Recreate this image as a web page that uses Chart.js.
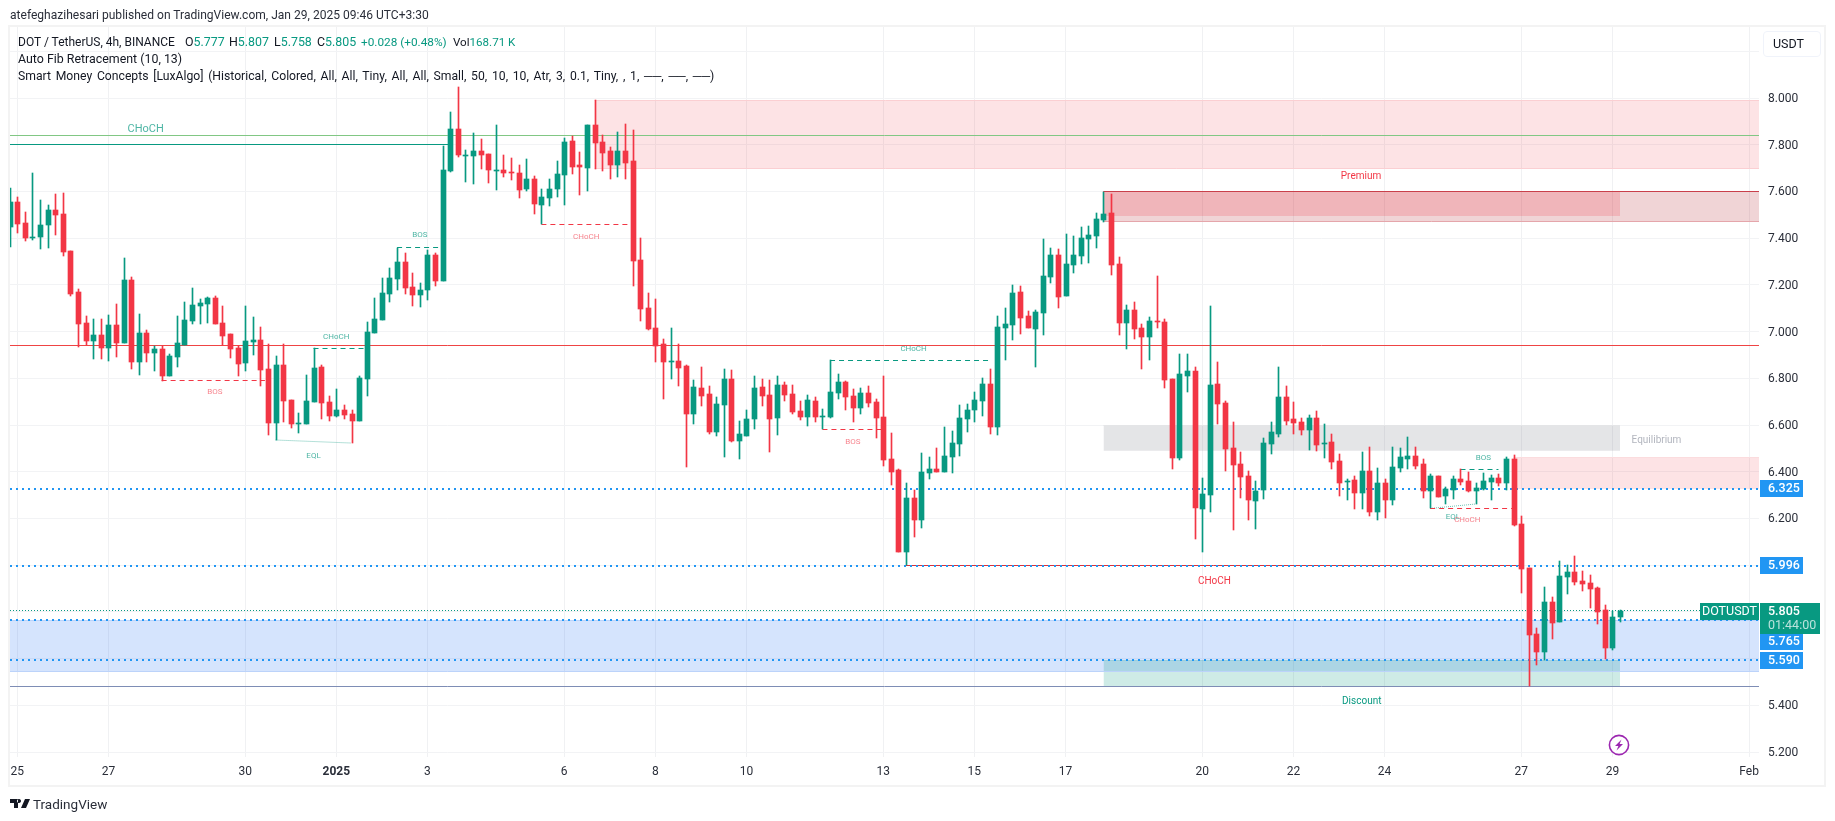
<!DOCTYPE html>
<html>
<head>
<meta charset="utf-8">
<title>DOT / TetherUS</title>
<script src="https://cdn.jsdelivr.net/npm/chart.js@4"></script>
<style>
    html, body { margin: 0; padding: 0; background: #fff; width: 1835px; height: 821px; overflow: hidden; }
    body { font-family: Roboto, sans-serif; color: #131722; position: relative; }
    #frame { position: absolute; left: 8px; top: 25px; width: 1814px; height: 758px; border: 2px solid #f3f3f3; }
    #chartBox { position: absolute; left: 0; top: 0; width: 1835px; height: 821px; }
    .text-line { position: absolute; white-space: pre; font-size: 12.4px; line-height: 16px; }
    .value { color: #089981; }
    #published { left: 10px; top: 7px; font-size: 12.05px; color: #2a2e39; }
    #unit { position: absolute; left: 1763px; top: 31px; width: 47px; height: 24px; padding-left: 9px; border: 1px solid #f0f3fa; border-radius: 4px; font-size: 12.5px; line-height: 24px; }
    #brand { left: 33px; top: 796px; font-size: 13.5px; color: #2a2e39; }
    #logo { position: absolute; left: 10px; top: 799px; }
    #bolt { position: absolute; left: 1608px; top: 734px; }
</style>
</head>
<body>
<div id="frame"></div>
<div id="chartBox"><canvas id="priceChart" width="1835" height="821"></canvas></div>
<div class="text-line" id="published">atefeghazihesari published on TradingView.com, Jan 29, 2025 09:46 UTC+3:30</div>
<div class="text-line" style="left:18px;top:34px;font-size:12px">DOT / TetherUS, 4h, BINANCE</div>
<div class="text-line" style="left:185px;top:34px">O<span class="value">5.777</span></div>
<div class="text-line" style="left:229px;top:34px">H<span class="value">5.807</span></div>
<div class="text-line" style="left:274px;top:34px">L<span class="value">5.758</span></div>
<div class="text-line" style="left:317px;top:34px">C<span class="value">5.805</span></div>
<div class="text-line value" style="left:361px;top:34px;font-size:11.8px">+0.028 (+0.48%)</div>
<div class="text-line" style="left:453px;top:34px;font-size:11.6px">Vol<span class="value">168.71 K</span></div>
<div class="text-line" style="left:18px;top:51px">Auto Fib Retracement (10, 13)</div>
<div class="text-line" style="left:18px;top:68px;font-size:12.2px;word-spacing:1.7px">Smart Money Concepts [LuxAlgo] (Historical, Colored, All, All, Tiny, All, All, Small, 50, 10, 10, Atr, 3, 0.1, Tiny, , 1, ──, ──, ──)</div>
<div id="unit">USDT</div>
<svg id="logo" width="21" height="9" viewBox="0 0 21 9"><path d="M0 0h8v9H4V4H0z M9 0a2 2 0 1 0 0.01 0z M15 0h5l-4 9h-5z" fill="#131722"/></svg>
<div class="text-line" id="brand">TradingView</div>
<svg id="bolt" width="22" height="22" viewBox="0 0 22 22"><circle cx="11" cy="11" r="9.6" fill="#fff" stroke="#9c27b0" stroke-width="1.6"/><path d="M13.5 5.5 7 12h3.4l-1.9 4.5L15 10h-3.4z" fill="#9c27b0"/></svg>
<script>
// Candles, 4h bars, first one is half cut by the left edge
const opens = [
    7.449,7.555,7.465,7.402,7.406,7.458,7.520,7.503,7.345,7.169,
    7.037,6.961,6.985,6.931,7.028,6.952,7.221,6.871,6.994,6.910,
    6.925,6.811,6.892,6.942,7.047,7.111,7.119,7.144,7.037,6.989,
    6.930,6.867,6.957,6.964,6.840,6.610,6.857,6.707,6.606,6.606,
    6.700,6.848,6.698,6.640,6.664,6.647,6.618,6.798,6.995,7.051,
    7.162,7.226,7.298,7.191,7.158,7.179,7.328,7.218,7.687,7.867,
    7.751,7.753,7.773,7.760,7.687,7.692,7.683,7.679,7.610,7.653,
    7.542,7.572,7.610,7.670,7.816,7.713,7.700,7.884,7.811,7.773,
    7.713,7.773,7.730,7.306,7.101,7.015,6.947,6.870,6.874,6.852,
    6.647,6.758,6.733,6.570,6.685,6.797,6.531,6.553,6.626,6.763,
    6.728,6.630,6.771,6.733,6.660,6.634,6.703,6.634,6.634,6.737,
    6.784,6.724,6.673,6.737,6.698,6.634,6.454,6.408,6.056,6.288,
    6.193,6.395,6.412,6.399,6.463,6.519,6.626,6.664,6.703,6.776,
    6.592,7.015,7.028,7.170,7.067,7.011,7.080,7.234,7.328,7.152,
    7.285,7.324,7.396,7.409,7.478,7.508,7.289,7.037,7.092,7.015,
    6.977,7.045,7.041,6.797,6.459,6.810,6.831,6.241,6.301,6.776,
    6.694,6.502,6.433,6.382,6.275,6.322,6.519,6.562,6.720,6.626,
    6.613,6.579,6.630,6.519,6.527,6.446,6.356,6.365,6.309,6.403,
    6.228,6.352,6.279,6.416,6.455,6.467,6.433,6.318,6.382,6.296,
    6.322,6.369,6.360,6.318,6.326,6.356,6.373,6.352,6.455,6.176,
    5.988,5.705,5.628,5.842,5.757,5.949,5.971,5.932,5.924,5.902,
    5.808,5.645,5.777
];
const highs = [
    7.614,7.576,7.512,7.679,7.563,7.542,7.589,7.593,7.345,7.182,
    7.067,7.054,7.054,7.071,7.118,7.315,7.233,7.075,7.007,6.938,
    6.938,6.904,7.067,7.126,7.186,7.139,7.148,7.152,7.109,6.989,
    6.938,7.109,7.062,7.019,6.947,6.895,6.947,6.707,6.651,6.814,
    6.928,6.857,6.724,6.754,6.685,6.664,6.810,7.041,7.144,7.229,
    7.272,7.360,7.336,7.251,7.208,7.349,7.336,7.794,7.940,8.047,
    7.777,7.850,7.824,7.760,7.884,7.756,7.743,7.713,7.739,7.666,
    7.610,7.653,7.730,7.829,7.837,7.769,7.884,7.991,7.841,7.790,
    7.854,7.888,7.863,7.400,7.165,7.139,6.968,7.015,6.947,6.857,
    6.793,6.848,6.767,6.720,6.840,6.835,6.617,6.664,6.810,6.797,
    6.793,6.810,6.784,6.771,6.703,6.728,6.720,6.668,6.878,6.818,
    6.788,6.754,6.758,6.767,6.711,6.810,6.566,6.412,6.352,6.322,
    6.480,6.463,6.502,6.592,6.574,6.686,6.690,6.741,6.801,6.840,
    7.067,7.101,7.199,7.195,7.088,7.092,7.396,7.358,7.354,7.418,
    7.409,7.448,7.452,7.508,7.599,7.589,7.319,7.114,7.127,7.033,
    7.063,7.238,7.054,6.797,6.904,6.904,6.848,6.373,7.110,6.870,
    6.703,6.613,6.485,6.403,6.360,6.544,6.613,6.848,6.767,6.699,
    6.630,6.643,6.660,6.604,6.562,6.476,6.369,6.382,6.485,6.506,
    6.416,6.369,6.506,6.502,6.549,6.506,6.455,6.390,6.382,6.335,
    6.382,6.410,6.399,6.352,6.395,6.386,6.390,6.463,6.472,6.211,
    5.988,5.731,5.907,5.864,6.018,6.001,6.039,5.975,5.958,5.907,
    5.830,5.804,5.807
];
const lows = [
    7.363,7.423,7.389,7.393,7.355,7.359,7.415,7.325,7.154,6.935,
    6.941,6.884,6.884,6.875,6.892,6.952,6.841,6.815,6.871,6.832,
    6.790,6.811,6.850,6.942,7.034,7.034,7.038,7.034,6.942,6.888,
    6.811,6.832,6.901,6.768,6.559,6.536,6.614,6.588,6.567,6.606,
    6.700,6.627,6.618,6.636,6.627,6.523,6.618,6.725,6.995,7.051,
    7.126,7.179,7.162,7.109,7.106,7.136,7.196,7.218,7.683,7.749,
    7.640,7.632,7.696,7.636,7.606,7.662,7.649,7.572,7.602,7.503,
    7.459,7.537,7.576,7.542,7.674,7.584,7.602,7.696,7.687,7.653,
    7.662,7.653,7.195,7.045,7.007,6.870,6.711,6.797,6.767,6.420,
    6.604,6.681,6.561,6.553,6.463,6.527,6.454,6.553,6.583,6.681,
    6.484,6.557,6.703,6.647,6.621,6.596,6.613,6.581,6.630,6.711,
    6.664,6.613,6.647,6.677,6.544,6.424,6.343,6.056,6.001,6.121,
    6.159,6.369,6.399,6.399,6.395,6.467,6.570,6.613,6.639,6.562,
    6.557,6.878,6.964,6.990,7.015,6.848,6.985,7.208,7.101,7.152,
    7.251,7.289,7.294,7.358,7.469,7.242,6.985,6.926,6.968,6.840,
    6.878,7.015,6.759,6.412,6.450,6.741,6.112,6.056,6.228,6.604,
    6.403,6.151,6.288,6.193,6.155,6.283,6.476,6.549,6.600,6.562,
    6.557,6.493,6.489,6.459,6.412,6.296,6.279,6.241,6.241,6.211,
    6.193,6.202,6.258,6.399,6.412,6.412,6.288,6.243,6.292,6.262,
    6.283,6.343,6.313,6.262,6.322,6.279,6.339,6.322,6.168,5.881,
    5.483,5.573,5.594,5.684,5.757,5.877,5.915,5.889,5.817,5.748,
    5.598,5.637,5.758
];
const closes = [
    7.555,7.462,7.402,7.405,7.456,7.520,7.500,7.342,7.162,7.034,
    6.961,6.985,6.931,7.028,6.952,7.221,6.871,6.994,6.910,6.925,
    6.811,6.895,6.951,7.049,7.114,7.122,7.144,7.034,6.982,6.927,
    6.862,6.959,6.964,6.837,6.610,6.857,6.704,6.606,6.608,6.703,
    6.844,6.695,6.640,6.664,6.644,6.618,6.801,6.998,7.054,7.165,
    7.229,7.298,7.188,7.158,7.178,7.328,7.218,7.692,7.867,7.757,
    7.756,7.773,7.757,7.693,7.692,7.680,7.680,7.606,7.653,7.546,
    7.576,7.610,7.674,7.811,7.704,7.704,7.884,7.807,7.764,7.713,
    7.773,7.721,7.302,7.096,7.011,6.938,6.870,6.874,6.844,6.647,
    6.763,6.724,6.570,6.690,6.797,6.531,6.561,6.626,6.758,6.724,
    6.626,6.771,6.728,6.656,6.634,6.707,6.634,6.638,6.741,6.784,
    6.720,6.673,6.737,6.694,6.630,6.450,6.399,6.056,6.288,6.193,
    6.399,6.412,6.399,6.467,6.523,6.630,6.664,6.707,6.776,6.592,
    7.020,7.033,7.165,7.058,7.015,7.084,7.238,7.328,7.148,7.289,
    7.328,7.401,7.414,7.482,7.503,7.285,7.037,7.092,7.011,6.977,
    7.045,7.041,6.793,6.459,6.819,6.831,6.245,6.305,6.771,6.690,
    6.497,6.429,6.378,6.279,6.318,6.523,6.570,6.720,6.617,6.609,
    6.579,6.630,6.514,6.523,6.442,6.352,6.360,6.309,6.403,6.228,
    6.352,6.279,6.420,6.463,6.467,6.425,6.318,6.382,6.292,6.326,
    6.369,6.356,6.318,6.330,6.360,6.373,6.352,6.455,6.172,5.984,
    5.701,5.628,5.842,5.752,5.954,5.971,5.928,5.919,5.898,5.800,
    5.645,5.778,5.805
];

// Time axis: candle index of each day label
const dayTickIndex = [1, 13, 31, 43, 55, 73, 85, 97, 115, 127, 139, 157, 169, 181, 199, 211, 229];
const dayTickLabels = ['25', '27', '30', '2025', '3', '6', '8', '10', '13', '15', '17', '20', '22', '24', '27', '29', 'Feb'];

// Price axis labels covered by the level tags in the original
const hiddenPriceTicks = ['8.200', '6.000', '5.800', '5.600'];

// Blue horizontal levels and the last price
const blueLevels = [6.325, 5.996, 5.765, 5.590];
const lastPrice = 5.805;
const countdown = '01:44:00';

const UP = '#089981';
const DOWN = '#f23645';
const UP_TEXT = 'rgba(8, 153, 129, 0.72)';
const DOWN_TEXT = 'rgba(242, 54, 69, 0.62)';

// Visible range of the axes
const xFirst = 0.04;
const xLast = 230.3;
const priceMin = 5.179;
const priceMax = 8.304;

const candleColors = closes.map((c, i) => (c >= opens[i] ? UP : DOWN));

// Flat line between two candle indexes, order keeps it behind the candles
function segment(x1, y1, x2, y2, color, width, dash) {
    return {
        type: 'line',
        order: 5,
        data: [{ x: x1, y: y1 }, { x: x2, y: y2 }],
        borderColor: color,
        borderWidth: width,
        borderDash: dash || [],
        pointRadius: 0,
        fill: false,
        tension: 0
    };
}

// Price box, top edge is the line and fill goes down to the bottom price
function zone(x1, x2, top, bottom, fillColor, edgeColor, order) {
    const d = segment(x1, top, x2, top, edgeColor, 1);
    d.fill = { value: bottom };
    d.backgroundColor = fillColor;
    d.order = order || 8;
    return d;
}

const overlays = [
    // Boxes
    zone(77, xLast, 7.991, 7.697, 'rgba(242, 54, 69, 0.14)', '#fbcfd2'),
    segment(77, 7.697, xLast, 7.697, '#fbcfd2', 1),
    zone(144, xLast, 7.600, 7.473, 'rgba(178, 40, 51, 0.2)', '#c9404b'),
    segment(144, 7.473, xLast, 7.473, '#e5a6ab', 1),
    zone(144, 212, 7.600, 7.495, 'rgba(242, 54, 69, 0.2)', '#c9404b', 7),
    zone(144, 212, 6.597, 6.490, 'rgba(120, 123, 134, 0.2)', '#e4e5e7', 7),
    zone(198, xLast, 6.463, 6.326, 'rgba(242, 54, 69, 0.14)', '#fbdcde'),
    zone(xFirst, xLast, 5.765, 5.546, 'rgba(33, 110, 245, 0.19)', '#bcd3fa', 9),
    segment(xFirst, 5.546, xLast, 5.546, '#bcd3fa', 1),
    zone(144, 212, 5.591, 5.483, 'rgba(8, 153, 129, 0.2)', 'rgba(8,153,129,0.2)', 7),

    // Long horizontal lines
    segment(xFirst, 7.840, xLast, 7.840, '#81c784', 1),
    segment(xFirst, 7.800, 58, 7.800, UP, 1),
    segment(xFirst, 6.940, xLast, 6.940, '#ef4444', 1),
    segment(118, 5.998, 199, 5.998, '#d8323c', 1),
    segment(xFirst, 5.482, xLast, 5.482, '#7e8db5', 1),

    // Structure breaks
    segment(20, 6.791, 33.6, 6.791, DOWN, 1, [5, 4]),
    segment(40, 6.928, 47, 6.928, UP, 1, [5, 4]),
    segment(51, 7.360, 56.5, 7.360, UP, 1, [5, 4]),
    segment(70, 7.459, 82, 7.459, DOWN, 1, [5, 4]),
    segment(108, 6.877, 129, 6.877, UP, 1, [5, 4]),
    segment(107, 6.581, 115, 6.581, DOWN, 1, [5, 4]),
    segment(191, 6.410, 196, 6.410, UP, 1, [5, 4]),
    segment(187, 6.243, 198, 6.243, DOWN, 1, [5, 4]),

    // Equal lows
    segment(35, 6.536, 45, 6.523, 'rgba(8, 153, 129, 0.6)', 1, [1, 1]),
    segment(187, 6.243, 193, 6.262, 'rgba(8, 153, 129, 0.6)', 1, [1, 1]),

    // Last price
    segment(xFirst, lastPrice, xLast, lastPrice, UP, 1, [1, 2])
];

// Blue dotted levels
blueLevels.forEach(p => {
    const d = segment(xFirst, p, xLast, p, '#2196f3', 2, [2, 4]);
    d.order = 4;
    overlays.push(d);
});

// Text written on the chart: [text, candle index, price, color, font px]
const chartNotes = [
    ['CHoCH', 17.9, 7.872, UP_TEXT, 11],
    ['BOS', 27, 6.746, DOWN_TEXT, 8],
    ['EQL', 40, 6.472, UP_TEXT, 8],
    ['CHoCH', 43, 6.983, UP_TEXT, 8],
    ['BOS', 54, 7.416, UP_TEXT, 8],
    ['CHoCH', 75.9, 7.410, DOWN_TEXT, 8],
    ['CHoCH', 119, 6.931, UP_TEXT, 8],
    ['BOS', 111, 6.530, DOWN_TEXT, 8],
    ['Premium', 177.9, 7.668, DOWN, 10],
    ['Equilibrium', 216.8, 6.540, '#b2b5be', 10],
    ['CHoCH', 158.6, 5.934, DOWN, 10],
    ['Discount', 178, 5.420, UP, 10],
    ['BOS', 194, 6.463, UP_TEXT, 8],
    ['EQL', 190, 6.212, UP_TEXT, 8],
    ['CHoCH', 191.9, 6.196, DOWN_TEXT, 8]
];

// Snap bars and flat lines to whole pixels, the original chart is crisp
const snapPlugin = {
    id: 'snap',
    afterDatasetsUpdate(chart) {
        chart.getSortedVisibleDatasetMetas().forEach(meta => {
            const set = chart.data.datasets[meta.index];
            if (meta.type === 'bar') {
                meta.data.forEach(el => {
                    el.x = Math.round(el.x) + 0.5;
                    el.y = Math.round(el.y);
                    el.base = Math.round(el.base);
                    if (el.y === el.base) el.base += 1;
                });
            } else if (set.data[0].y === set.data[1].y) {
                const half = set.borderWidth % 2 ? 0.5 : 0;
                meta.data.forEach(el => {
                    el.y = Math.floor(el.y) + half;
                });
            }
        });
    }
};

// Chart notes and the tags on the price axis
const tagsPlugin = {
    id: 'tags',
    afterDraw(chart) {
        const ctx = chart.ctx;
        const xs = chart.scales.x;
        const ys = chart.scales.y;
        const right = chart.chartArea.right;

        ctx.save();
        ctx.textAlign = 'center';
        ctx.textBaseline = 'middle';
        chartNotes.forEach(n => {
            ctx.fillStyle = n[3];
            ctx.font = n[4] + 'px Roboto';
            ctx.fillText(n[0], xs.getPixelForValue(n[1]), ys.getPixelForValue(n[2]) + 1);
        });

        // Blue level tags, 5.765 sits pushed down under the last price tag
        ctx.textAlign = 'left';
        ctx.font = '500 12.5px Roboto';
        blueLevels.forEach(p => {
            let y = Math.round(ys.getPixelForValue(p));
            if (p === 5.765) y += 22;
            ctx.fillStyle = '#2196f3';
            ctx.fillRect(right + 1, y - 9, 43, 17);
            ctx.fillStyle = '#fff';
            ctx.fillText(p.toFixed(3), right + 9, y);
        });

        // Last price tag with countdown and symbol name
        const lastY = Math.round(ys.getPixelForValue(lastPrice));
        ctx.fillStyle = UP;
        ctx.fillRect(right + 1, lastY - 8, 60, 31);
        ctx.fillRect(right - 59, lastY - 8, 59, 17);
        ctx.fillStyle = '#fff';
        ctx.fillText(lastPrice.toFixed(3), right + 9, lastY + 1);
        ctx.font = '12.5px Roboto';
        ctx.fillStyle = 'rgba(255, 255, 255, 0.72)';
        ctx.fillText(countdown, right + 9, lastY + 15);
        ctx.fillStyle = '#fff';
        ctx.textAlign = 'center';
        ctx.fillText('DOTUSDT', right - 29.5, lastY + 1);
        ctx.restore();
    }
};

// Initialize chart
const ctx = document.getElementById('priceChart').getContext('2d');
new Chart(ctx, {
    type: 'bar',
    data: {
        datasets: [
            {
                label: 'Wick',
                order: 1,
                data: lows.map((l, i) => ({ x: i, y: [l, highs[i]] })),
                backgroundColor: candleColors,
                barThickness: 1,
                grouped: false
            },
            {
                label: 'Body',
                order: 0,
                data: opens.map((o, i) => ({ x: i, y: [o, closes[i]] })),
                backgroundColor: candleColors,
                barThickness: 5,
                grouped: false
            },
            ...overlays
        ]
    },
    plugins: [snapPlugin, tagsPlugin],
    options: {
        responsive: false,
        animation: false,
        events: [],
        layout: { padding: { left: 10, top: 27, right: 10, bottom: 34 } },
        plugins: {
            legend: { display: false },
            tooltip: { enabled: false }
        },
        scales: {
            x: {
                type: 'linear',
                offset: false,
                min: xFirst,
                max: xLast,
                grid: { color: '#f0f1f3', offset: false, drawTicks: false },
                border: { display: false },
                afterFit(scale) { scale.height = 30; },
                afterBuildTicks(scale) {
                    scale.ticks = dayTickIndex.map(v => ({ value: v }));
                },
                ticks: {
                    autoSkip: false,
                    maxRotation: 0,
                    padding: 8,
                    color: '#2a2e39',
                    font: ctx => ({
                        family: 'Roboto',
                        size: 12,
                        weight: dayTickIndex[ctx.index] === 43 ? '700' : '400'
                    }),
                    callback: (v, i) => dayTickLabels[i]
                }
            },
            y: {
                position: 'right',
                min: priceMin,
                max: priceMax,
                grid: { color: '#f2f3f5', drawTicks: false },
                border: { display: false },
                afterFit(scale) { scale.width = 66; },
                ticks: {
                    stepSize: 0.2,
                    includeBounds: false,
                    padding: 9,
                    labelOffset: 1,
                    color: '#2a2e39',
                    font: { family: 'Roboto', size: 12 },
                    callback: v => {
                        const label = v.toFixed(3);
                        return hiddenPriceTicks.includes(label) ? '' : label;
                    }
                }
            }
        }
    }
});
</script>
</body>
</html>
